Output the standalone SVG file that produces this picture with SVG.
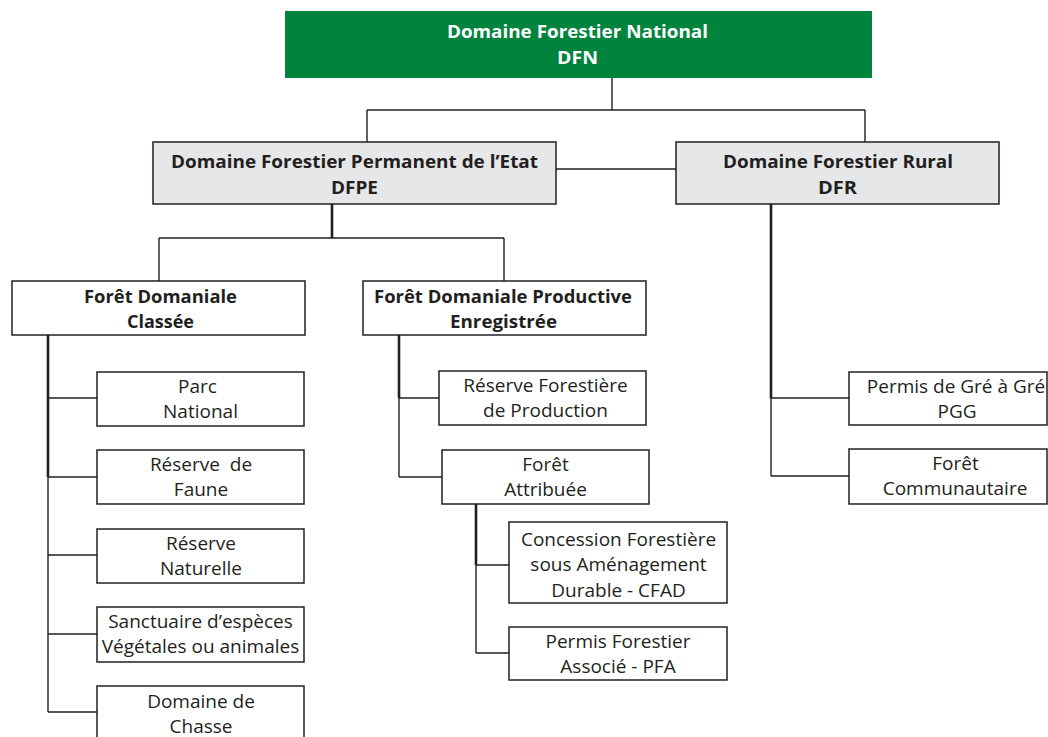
<svg xmlns="http://www.w3.org/2000/svg" width="1048" height="737" viewBox="0 0 1048 737">
  <style>
    .box { fill: #ffffff; stroke: #231f20; stroke-width: 1.5; }
    .grey { fill: #e6e7e8; stroke: #231f20; stroke-width: 1.5; }
    .green { fill: #00843d; stroke: none; }
    .t { font-family: "Open Sans", "Liberation Sans", sans-serif; font-size: 19px; fill: #231f20; text-anchor: middle; }
    .b { font-family: "Open Sans", "Liberation Sans", sans-serif; font-size: 18px; font-weight: bold; fill: #231f20; text-anchor: middle; }
    .w { fill: #ffffff; }
    .ln { fill: none; stroke: #231f20; stroke-width: 1.4; }
    .thick { fill: none; stroke: #231f20; stroke-width: 2.6; }
  </style>
  <rect width="1048" height="737" fill="#ffffff"/>

  <!-- connectors -->
  <g id="connectors">
    <path class="ln" d="M612,78 V110 M367,110 H865 M367,110 V142 M865,110 V142"/>
    <path class="ln" d="M556,169 H676"/>
    <path class="thick" d="M332,204 V238"/>
    <path class="ln" d="M159,238 H504 M159,238 V281 M504,238 V281"/>
    <!-- Forêt Domaniale Classée branches -->
    <path class="thick" d="M48,335 V477"/>
    <path class="ln" d="M48,477 V712 M48,398 H97 M48,477 H97 M48,555 H97 M48,634 H97 M48,712 H97"/>
    <!-- Forêt Domaniale Productive branches -->
    <path class="thick" d="M399,335 V398"/>
    <path class="ln" d="M399,398 V477 M399,398 H439 M399,477 H442"/>
    <!-- Forêt Attribuée branches -->
    <path class="thick" d="M476,504 V565"/>
    <path class="ln" d="M476,565 V653 M476,565 H509 M476,653 H509"/>
    <!-- Domaine Forestier Rural branches -->
    <path class="thick" d="M771,204 V398"/>
    <path class="ln" d="M771,398 V476 M771,398 H849 M771,476 H849"/>
  </g>

  <g id="dfn">
    <rect class="green" x="285" y="11" width="587" height="67"/>
    <text class="b w" x="577.5" y="38" textLength="261" lengthAdjust="spacingAndGlyphs">Domaine Forestier National</text>
    <text class="b w" x="577.5" y="64" textLength="41" lengthAdjust="spacingAndGlyphs">DFN</text>
  </g>

  <g id="dfpe">
    <rect class="grey" x="153" y="142" width="403" height="62"/>
    <text class="b" x="354.5" y="168" textLength="367" lengthAdjust="spacingAndGlyphs">Domaine Forestier Permanent de l’Etat</text>
    <text class="b" x="354.5" y="194" textLength="47" lengthAdjust="spacingAndGlyphs">DFPE</text>
  </g>

  <g id="dfr">
    <rect class="grey" x="676" y="142" width="323" height="62"/>
    <text class="b" x="838" y="168" textLength="230" lengthAdjust="spacingAndGlyphs">Domaine Forestier Rural</text>
    <text class="b" x="837.5" y="194" textLength="39" lengthAdjust="spacingAndGlyphs">DFR</text>
  </g>

  <g id="fdc">
    <rect class="box" x="12" y="281" width="293" height="54"/>
    <text class="b" x="160.5" y="303" textLength="153" lengthAdjust="spacingAndGlyphs">Forêt Domaniale</text>
    <text class="b" x="160.5" y="328" textLength="67" lengthAdjust="spacingAndGlyphs">Classée</text>
  </g>

  <g id="fdpe">
    <rect class="box" x="363" y="281" width="283" height="54"/>
    <text class="b" x="503" y="303" textLength="258" lengthAdjust="spacingAndGlyphs">Forêt Domaniale Productive</text>
    <text class="b" x="503.5" y="328" textLength="107" lengthAdjust="spacingAndGlyphs">Enregistrée</text>
  </g>

  <g id="parc-national">
    <rect class="box" x="97" y="372" width="207" height="54"/>
    <text class="t" x="197.5" y="393">Parc</text>
    <text class="t" x="200.5" y="418">National</text>
  </g>

  <g id="reserve-faune">
    <rect class="box" x="97" y="450" width="207" height="54"/>
    <text class="t" x="201" y="471" xml:space="preserve">Réserve  de</text>
    <text class="t" x="201" y="496">Faune</text>
  </g>

  <g id="reserve-naturelle">
    <rect class="box" x="97" y="529" width="207" height="54"/>
    <text class="t" x="201" y="550">Réserve</text>
    <text class="t" x="201" y="575">Naturelle</text>
  </g>

  <g id="sanctuaire">
    <rect class="box" x="97" y="607" width="207" height="55"/>
    <text class="t" x="200.5" y="628">Sanctuaire d’espèces</text>
    <text class="t" x="200.5" y="653">Végétales ou animales</text>
  </g>

  <g id="domaine-chasse">
    <rect class="box" x="97" y="686" width="207" height="60"/>
    <text class="t" x="201" y="708">Domaine de</text>
    <text class="t" x="201" y="733">Chasse</text>
  </g>

  <g id="reserve-production">
    <rect class="box" x="439" y="371" width="207" height="54"/>
    <text class="t" x="545.5" y="392">Réserve Forestière</text>
    <text class="t" x="545.5" y="417">de Production</text>
  </g>

  <g id="foret-attribuee">
    <rect class="box" x="442" y="450" width="207" height="54"/>
    <text class="t" x="545.5" y="471">Forêt</text>
    <text class="t" x="545.5" y="496">Attribuée</text>
  </g>

  <g id="cfad">
    <rect class="box" x="509" y="522" width="218" height="81"/>
    <text class="t" x="618.5" y="546">Concession Forestière</text>
    <text class="t" x="618.5" y="571">sous Aménagement</text>
    <text class="t" x="618.5" y="597">Durable - CFAD</text>
  </g>

  <g id="pfa">
    <rect class="box" x="509" y="627" width="218" height="53"/>
    <text class="t" x="618" y="648">Permis Forestier</text>
    <text class="t" x="618" y="673">Associé - PFA</text>
  </g>

  <g id="pgg">
    <rect class="box" x="849" y="372" width="198" height="53"/>
    <text class="t" x="956" y="393">Permis de Gré à Gré</text>
    <text class="t" x="957" y="418">PGG</text>
  </g>

  <g id="foret-communautaire">
    <rect class="box" x="849" y="449" width="198" height="55"/>
    <text class="t" x="955.5" y="470">Forêt</text>
    <text class="t" x="955" y="495">Communautaire</text>
  </g>
</svg>
